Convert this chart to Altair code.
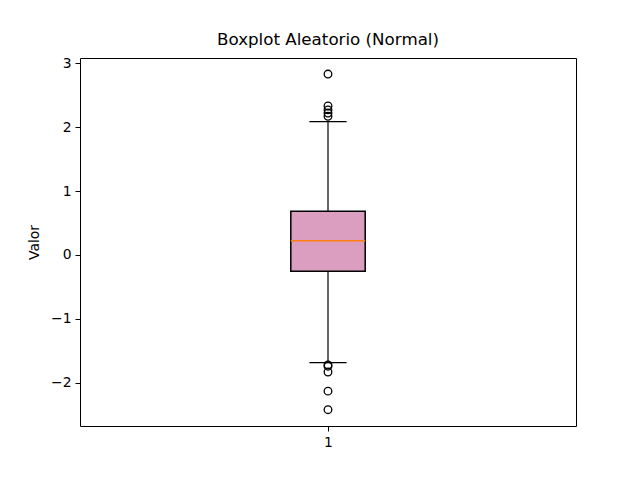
import altair as alt
import pandas as pd

# ---- data ----
positions = [1]
q1 = [-0.253]
median = [0.222]
q3 = [0.684]
whisker_low = [-1.684]
whisker_high = [2.086]
outliers = [2.83, 2.33, 2.27, 2.22, 2.17, -1.72, -1.74, -1.83, -2.13, -2.42]
x_tick_labels = ["1"]
y_ticks = [-2, -1, 0, 1, 2, 3]

box_df = pd.DataFrame({
    "pos": positions, "q1": q1, "median": median, "q3": q3,
    "lo": whisker_low, "hi": whisker_high,
})
out_df = pd.DataFrame({"pos": [positions[0]] * len(outliers), "value": outliers})

FONT = "DejaVu Sans"
xscale = alt.Scale(domain=[0.5, 1.5], nice=False, zero=False)
yscale = alt.Scale(domain=[-2.675, 3.081], nice=False, zero=False)

x_axis = alt.Axis(values=positions, title=None, grid=False, domain=False,
                  labelExpr="'" + x_tick_labels[0] + "'",
                  labelFont=FONT, labelFontSize=13.9, labelColor="black",
                  tickColor="black", tickSize=5, labelPadding=4)
y_axis = alt.Axis(values=y_ticks, title="Valor", grid=False, domain=False,
                  labelExpr="replace(format(datum.value, 'd'), '-', '\u2212')",
                  labelFont=FONT, labelFontSize=13.9, labelColor="black",
                  titleFont=FONT, titleFontSize=13.9, titleFontWeight="normal",
                  titleColor="black", titlePadding=9,
                  tickColor="black", tickSize=5, labelPadding=4)

base = alt.Chart(box_df)

whiskers = base.mark_rule(color="black", strokeWidth=1.2).encode(
    x=alt.X("pos:Q", scale=xscale, axis=x_axis),
    y=alt.Y("lo:Q", scale=yscale, axis=y_axis),
    y2="hi:Q",
)

caps_lo = base.transform_calculate(a="datum.pos - 0.0375", b="datum.pos + 0.0375").mark_rule(
    color="black", strokeWidth=1.2).encode(
    x=alt.X("a:Q", scale=xscale), x2="b:Q", y=alt.Y("lo:Q", scale=yscale))
caps_hi = base.transform_calculate(a="datum.pos - 0.0375", b="datum.pos + 0.0375").mark_rule(
    color="black", strokeWidth=1.2).encode(
    x=alt.X("a:Q", scale=xscale), x2="b:Q", y=alt.Y("hi:Q", scale=yscale))

box = base.transform_calculate(a="datum.pos - 0.075", b="datum.pos + 0.075").mark_rect(
    fill="#DB9EC0", stroke="black", strokeWidth=1.5).encode(
    x=alt.X("a:Q", scale=xscale), x2="b:Q",
    y=alt.Y("q1:Q", scale=yscale), y2="q3:Q")

med = base.transform_calculate(a="datum.pos - 0.075", b="datum.pos + 0.075").mark_rule(
    color="#ff7f0e", strokeWidth=1.5).encode(
    x=alt.X("a:Q", scale=xscale), x2="b:Q", y=alt.Y("median:Q", scale=yscale))

pts = alt.Chart(out_df).mark_point(shape="circle", filled=False, color="black",
                                    size=58, strokeWidth=1.3, opacity=1).encode(
    x=alt.X("pos:Q", scale=xscale), y=alt.Y("value:Q", scale=yscale))

chart = alt.layer(whiskers, caps_lo, caps_hi, box, med, pts).properties(
    width=496, height=368,
    background="white",
    title=alt.TitleParams("Boxplot Aleatorio (Normal)", font=FONT, fontSize=16.7,
                          fontWeight="normal", color="black", offset=7),
    autosize=alt.AutoSizeParams(type="none"),
    padding={"left": 72, "top": 50, "right": 56, "bottom": 45},
).configure_view(stroke="black", strokeWidth=1, strokeOpacity=1)

chart.save("out.html", embed_options={"renderer": "svg", "actions": False})
